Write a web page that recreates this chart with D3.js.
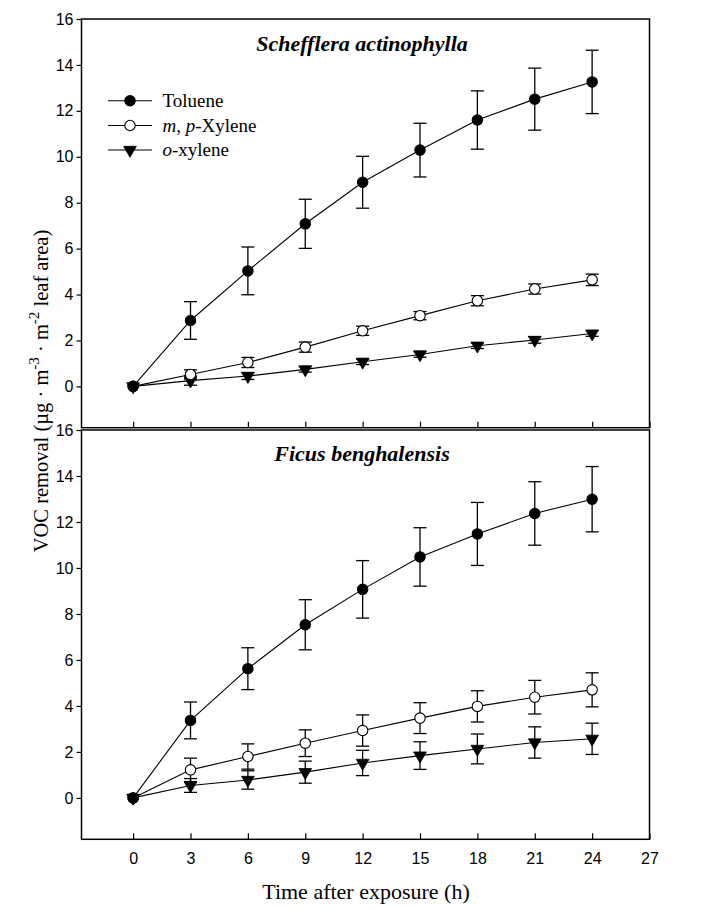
<!DOCTYPE html>
<html><head><meta charset="utf-8">
<script src="https://cdn.jsdelivr.net/npm/d3@7"></script>
<style>body{margin:0;background:#fff}svg{display:block}</style>
</head><body>
<script>
const times = [0, 3, 6, 9, 12, 15, 18, 21, 24];
const xTicks = [0, 3, 6, 9, 12, 15, 18, 21, 24, 27];
const yTicks = [0, 2, 4, 6, 8, 10, 12, 14, 16];
const seriesNames = ["Toluene", "m, p-Xylene", "o-xylene"];
const panelTitles = ["Schefflera actinophylla", "Ficus benghalensis"];

// Schefflera actinophylla
const schTolueneMean = [0, 2.87, 5.03, 7.08, 8.89, 10.29, 11.6, 12.51, 13.26];
const schTolueneErr  = [0, 0.82, 1.04, 1.07, 1.13, 1.17, 1.27, 1.35, 1.38];
const schMPMean      = [0, 0.52, 1.04, 1.71, 2.42, 3.08, 3.73, 4.24, 4.64];
const schMPErr       = [0, 0.2, 0.22, 0.22, 0.2, 0.18, 0.22, 0.22, 0.25];
const schOMean       = [0, 0.25, 0.45, 0.74, 1.07, 1.39, 1.77, 2.02, 2.3];
const schOErr        = [0, 0.2, 0.15, 0.12, 0.12, 0.12, 0.12, 0.14, 0.12];

// Ficus benghalensis
const ficTolueneMean = [0, 3.37, 5.62, 7.53, 9.07, 10.48, 11.48, 12.37, 12.99];
const ficTolueneErr  = [0, 0.8, 0.91, 1.09, 1.25, 1.27, 1.37, 1.38, 1.42];
const ficMPMean      = [0, 1.22, 1.8, 2.38, 2.93, 3.47, 3.98, 4.38, 4.7];
const ficMPErr       = [0, 0.51, 0.55, 0.58, 0.68, 0.67, 0.68, 0.73, 0.74];
const ficOMean       = [0, 0.54, 0.78, 1.12, 1.52, 1.84, 2.13, 2.41, 2.57];
const ficOErr        = [0, 0.3, 0.4, 0.48, 0.55, 0.6, 0.65, 0.68, 0.68];

const panels = [
  {title: panelTitles[0], top: 19, bottom: 427.7, showXLabels: false,
   series: [[schTolueneMean, schTolueneErr], [schMPMean, schMPErr], [schOMean, schOErr]]},
  {title: panelTitles[1], top: 430, bottom: 839.3, showXLabels: true,
   series: [[ficTolueneMean, ficTolueneErr], [ficMPMean, ficMPErr], [ficOMean, ficOErr]]}
];

const W = 706, H = 910;
const left = 81.5, right = 649.5;
const svg = d3.select("body").append("svg").attr("width", W).attr("height", H);

const x = d3.scaleLinear().domain([-2.7, 27]).range([left, right]);
const markerTypes = ["filled", "open", "tri"];
const tri = d3.symbol().type(d3.symbolTriangle).size(70);

function drawMarker(g, type, cx, cy) {
  if (type === "tri") {
    g.append("path").attr("d", tri())
      .attr("transform", `translate(${cx},${cy}) rotate(180)`)
      .attr("fill", "#000").attr("stroke", "#000").attr("stroke-width", 0.8);
  } else {
    g.append("circle").attr("cx", cx).attr("cy", cy).attr("r", 5.2)
      .attr("fill", type === "filled" ? "#000" : "#fff")
      .attr("stroke", "#000").attr("stroke-width", 1.1);
  }
}

panels.forEach((p, pi) => {
  const y = d3.scaleLinear().domain([-1.8, 16]).range([p.bottom, p.top]);
  const g = svg.append("g");

  // y axis
  const yAxis = d3.axisLeft(y).tickValues(yTicks).tickSize(5).tickPadding(3).tickFormat(d3.format("d"));
  const ya = g.append("g").attr("transform", `translate(${left},0)`).call(yAxis);
  ya.select(".domain").remove();
  ya.selectAll("line").attr("stroke-width", 1.2);
  ya.selectAll("text").attr("font-family", "Liberation Sans, Arial, sans-serif").attr("font-size", 16).attr("fill", "#000");

  // x axis (ticks inward)
  const xAxis = d3.axisBottom(x).tickValues(xTicks).tickSize(-6).tickPadding(13)
    .tickFormat(p.showXLabels ? d3.format("d") : () => "");
  const xa = g.append("g").attr("transform", `translate(0,${p.bottom})`).call(xAxis);
  xa.select(".domain").remove();
  xa.selectAll("line").attr("stroke-width", 1.2);
  xa.selectAll("text").attr("font-family", "Liberation Sans, Arial, sans-serif").attr("font-size", 16).attr("fill", "#000");

  // frame
  g.append("rect").attr("x", left).attr("y", p.top).attr("width", right - left).attr("height", p.bottom - p.top)
    .attr("fill", "none").attr("stroke", "#000").attr("stroke-width", 1.5);

  // title
  g.append("text").attr("x", 362).attr("y", pi === 0 ? 51 : 461)
    .attr("text-anchor", "middle").attr("font-family", "Liberation Serif, Times New Roman, serif")
    .attr("font-size", 22).attr("font-weight", "bold").attr("font-style", "italic").text(p.title);

  const line = d3.line().x((d, i) => x(times[i])).y(d => y(d));

  // draw series in reverse so toluene on top
  [2, 1, 0].forEach(si => {
    const [mean, err] = p.series[si];
    const sg = g.append("g");
    sg.append("path").attr("d", line(mean)).attr("fill", "none").attr("stroke", "#000").attr("stroke-width", 1.1);
    mean.forEach((m, i) => {
      const e = err[i];
      if (e > 0) {
        const cx = x(times[i]);
        sg.append("line").attr("x1", cx).attr("x2", cx).attr("y1", y(m - e)).attr("y2", y(m + e))
          .attr("stroke", "#000").attr("stroke-width", 1.3);
        [m - e, m + e].forEach(v => {
          sg.append("line").attr("x1", cx - 6.5).attr("x2", cx + 6.5).attr("y1", y(v)).attr("y2", y(v))
            .attr("stroke", "#000").attr("stroke-width", 1.3);
        });
      }
    });
    mean.forEach((m, i) => drawMarker(sg, markerTypes[si], x(times[i]), y(m)));
  });

  // legend in top panel
  if (pi === 0) {
    const lg = g.append("g");
    const rows = [100.7, 125.5, 150];
    seriesNames.forEach((name, si) => {
      const ry = rows[si];
      lg.append("line").attr("x1", 108).attr("x2", 152).attr("y1", ry).attr("y2", ry)
        .attr("stroke", "#000").attr("stroke-width", 1.1);
      drawMarker(lg, markerTypes[si], 130, ry);
      const t = lg.append("text").attr("x", 162.5).attr("y", ry + 6)
        .attr("font-family", "Liberation Serif, Times New Roman, serif").attr("font-size", 19);
      if (si === 0) t.text("Toluene");
      else if (si === 1) {
        t.append("tspan").attr("font-style", "italic").text("m");
        t.append("tspan").text(", ");
        t.append("tspan").attr("font-style", "italic").text("p");
        t.append("tspan").text("-Xylene");
      } else {
        t.append("tspan").attr("font-style", "italic").text("o");
        t.append("tspan").text("-xylene");
      }
    });
  }
});

// x axis title
svg.append("text").attr("x", 366).attr("y", 899).attr("text-anchor", "middle")
  .attr("font-family", "Liberation Serif, Times New Roman, serif").attr("font-size", 22)
  .text("Time after exposure (h)");

// y axis title
const yt = svg.append("text").attr("transform", "translate(48,391) rotate(-90)").attr("text-anchor", "middle")
  .attr("font-family", "Liberation Serif, Times New Roman, serif").attr("font-size", 20.5);
yt.append("tspan").text("VOC removal (µg · m");
yt.append("tspan").attr("dy", -9).attr("font-size", 15).text("-3");
yt.append("tspan").attr("dy", 9).text(" · m");
yt.append("tspan").attr("dy", -9).attr("font-size", 15).text("-2");
yt.append("tspan").attr("dy", 9).text(" leaf area)");
</script>
</body></html>
